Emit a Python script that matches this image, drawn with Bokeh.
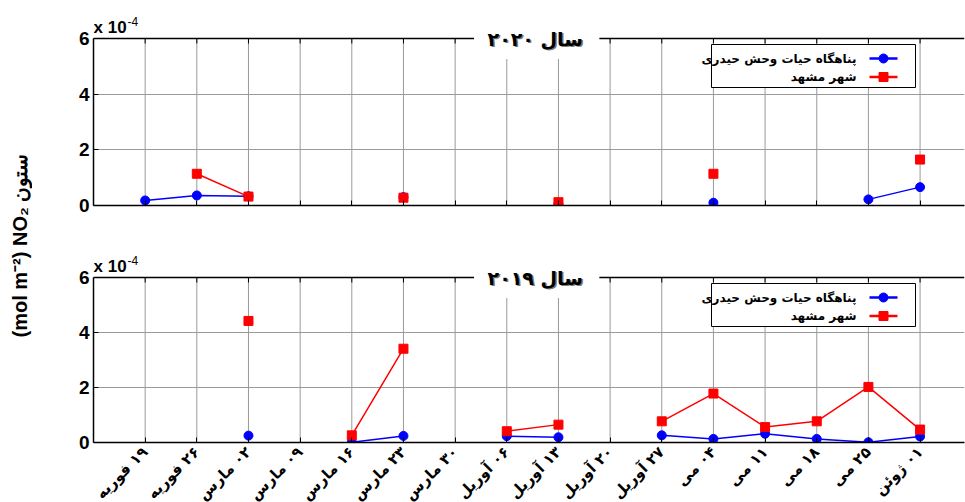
import math
from bokeh.plotting import figure
from bokeh.models import Label, FixedTicker, Range1d, BoxAnnotation
from bokeh.layouts import column, row
from bokeh.embed import file_html
from bokeh.resources import INLINE

nan = float("nan")

# ---- data (NO2 column, units of 1e-4 mol m^-2) ----
day_nums = ["۱۹", "۲۶", "۰۲", "۰۹", "۱۶", "۲۳", "۳۰", "۰۶", "۱۳", "۲۰", "۲۷", "۰۴", "۱۱", "۱۸", "۲۵", "۰۱"]
month_names = ["فوریه", "فوریه", "مارس", "مارس", "مارس", "مارس", "مارس", "آوریل", "آوریل", "آوریل",
               "آوریل", "می", "می", "می", "می", "ژوئن"]
x_idx = list(range(1, 17))

heydari_2020 = [0.18, 0.36, 0.33, nan, nan, 0.30, nan, nan, 0.05, nan, nan, 0.10, nan, nan, 0.22, 0.66]
mashhad_2020 = [nan, 1.14, 0.32, nan, nan, 0.28, nan, nan, 0.12, nan, nan, 1.14, nan, nan, nan, 1.65]
heydari_2019 = [nan, nan, 0.25, nan, 0.01, 0.24, nan, 0.23, 0.19, nan, 0.26, 0.13, 0.32, 0.13, 0.01, 0.22]
mashhad_2019 = [nan, nan, 4.42, nan, 0.26, 3.41, nan, 0.41, 0.65, nan, 0.77, 1.78, 0.56, 0.77, 2.02, 0.47]

y_ticks = [0, 2, 4, 6]
y_grid = [2, 4]
Y_MAX = 6
series_names = ["پناهگاه حیات وحش حیدری", "شهر مشهد"]
titles = ["سال ۲۰۲۰", "سال ۲۰۱۹"]
y_label = "(mol m⁻²) NO₂ ستون"

# ---- layout constants ----
FRAME_W = 871
X_END = 16.86
PX_PER_X = FRAME_W / X_END
EXTRA = 28           # px of frame kept above the axes box (room for texts)
LATIN = "Liberation Sans"
ARABIC = "DejaVu Sans"
BLUE = "#0000ff"
RED = "#ff0000"
GRID = "#9a9a9a"

tick_labels = {i: f"{m}\u200e {d}" for i, d, m in zip(x_idx, day_nums, month_names)}
blank_labels = {i: "" for i in x_idx}


def px_x(px):  # px right of frame left -> data
    return px / PX_PER_X


def make_panel(title, blue, red, box_h, b_top, b_bot, show_labels):
    ppu = box_h / Y_MAX
    y_end = Y_MAX + EXTRA / ppu
    p = figure(frame_width=FRAME_W, frame_height=box_h + EXTRA,
               x_range=Range1d(0, X_END), y_range=Range1d(0, y_end),
               output_backend="svg", toolbar_location=None,
               min_border_left=61, min_border_right=1,
               min_border_top=b_top - EXTRA, min_border_bottom=b_bot)
    p.background_fill_color = "white"
    p.border_fill_color = "white"
    p.outline_line_color = None

    def py(off):  # px below box top -> data
        return Y_MAX - off / ppu

    # axes
    p.xaxis.ticker = FixedTicker(ticks=x_idx)
    p.yaxis.ticker = FixedTicker(ticks=y_ticks)
    p.yaxis.bounds = (0, Y_MAX)
    for ax in (p.xaxis[0], p.yaxis[0]):
        ax.major_tick_in = 5
        ax.major_tick_out = 0
        ax.minor_tick_line_color = None
        ax.axis_line_width = 1.5
        ax.axis_line_color = "black"
        ax.major_tick_line_color = "black"
    p.yaxis.major_label_text_font = LATIN
    p.yaxis.major_label_text_font_style = "bold"
    p.yaxis.major_label_text_font_size = "19px"
    p.yaxis.major_label_text_color = "black"
    p.yaxis.major_label_standoff = 4
    if show_labels:
        p.xaxis.major_label_overrides = tick_labels
        p.xaxis.major_label_orientation = math.pi / 4
        p.xaxis.major_label_text_font = ARABIC
        p.xaxis.major_label_text_font_style = "bold"
        p.xaxis.major_label_text_font_size = "15px"
        p.xaxis.major_label_text_color = "black"
        p.xaxis.major_label_standoff = 7
    else:
        p.xaxis.major_label_overrides = blank_labels

    # grid: horizontal from the y grid, vertical lines bounded to the box
    p.xgrid.visible = False
    p.ygrid.ticker = FixedTicker(ticks=y_grid)
    p.ygrid.grid_line_color = GRID
    p.segment(x0=x_idx, y0=[0] * len(x_idx), x1=x_idx, y1=[Y_MAX] * len(x_idx),
              line_color=GRID, line_width=1)

    # top edge of the box and its inward ticks
    p.segment(x0=[0], y0=[Y_MAX], x1=[X_END], y1=[Y_MAX], line_color="black", line_width=1.5)
    p.segment(x0=x_idx, y0=[Y_MAX] * len(x_idx), x1=x_idx, y1=[Y_MAX - 5 / ppu] * len(x_idx),
              line_color="black", line_width=1)

    # data
    p.line(x_idx, blue, line_color=BLUE, line_width=1.5)
    p.scatter(x_idx, blue, marker="circle", size=9, fill_color=BLUE, line_color=BLUE)
    p.line(x_idx, red, line_color=RED, line_width=1.5)
    p.scatter(x_idx, red, marker="square", size=9, fill_color=RED, line_color=RED)

    # multiplier
    p.add_layout(Label(x=0, y=Y_MAX, y_offset=2, text="x 10", text_font=LATIN, text_font_style="bold",
                       text_font_size="17px", text_color="black",
                       text_align="left", text_baseline="bottom"))
    p.add_layout(Label(x=0, y=Y_MAX, x_offset=34, y_offset=13, text="-4", text_font=LATIN,
                       text_font_size="12px", text_color="black",
                       text_align="left", text_baseline="bottom"))

    # title sitting on the top edge, with a white box that breaks the edge
    p.add_layout(Label(x=8.55, y=Y_MAX, x_offset=1.5, y_offset=-1.5, text=title, text_font=ARABIC,
                       text_font_style="bold", text_font_size="19px", text_color="#7a7a7a",
                       text_align="center", text_baseline="middle",
                       background_fill_color="white", padding=(15, 8)))
    p.add_layout(Label(x=8.55, y=Y_MAX, text=title, text_font=ARABIC, text_font_style="bold",
                       text_font_size="19px", text_color="black",
                       text_align="center", text_baseline="middle"))

    # legend (text on the left, sample on the right)
    p.add_layout(BoxAnnotation(left=px_x(618), right=px_x(822), top=py(6), bottom=py(49),
                               fill_color="white", fill_alpha=1, line_color="black",
                               line_width=1, line_alpha=1))
    for k, (name, col, mk) in enumerate(zip(series_names, [BLUE, RED], ["circle", "square"])):
        yy = py(20 + 18.5 * k)
        p.line([px_x(776), px_x(804)], [yy, yy], line_color=col, line_width=2.5, level="overlay")
        p.scatter([px_x(790)], [yy], marker=mk, size=9, fill_color=col, line_color=col,
                  level="overlay")
        p.add_layout(Label(x=px_x(763), y=yy, text=name, text_font=ARABIC, text_font_style="bold",
                           text_font_size="12px", text_color="black",
                           text_align="right", text_baseline="middle", level="overlay"))
    return p


top = make_panel(titles[0], heydari_2020, mashhad_2020, 167, 38, 40, False)
bot = make_panel(titles[1], heydari_2019, mashhad_2019, 165, 32, 58, True)

ylab = figure(width=32, height=500, x_range=Range1d(0, 1), y_range=Range1d(0, 1),
              x_axis_type=None, y_axis_type=None, output_backend="svg",
              toolbar_location=None, min_border=0)
ylab.outline_line_color = None
ylab.grid.visible = False
ylab.add_layout(Label(x=0.62, y=0.51, text=y_label, angle=math.pi / 2, text_font=LATIN,
                      text_font_style="bold", text_font_size="20px", text_color="black",
                      text_align="center", text_baseline="middle"))

layout = row(ylab, column(top, bot, spacing=0), spacing=0)

open("out.html", "w").write(file_html(layout, INLINE))
